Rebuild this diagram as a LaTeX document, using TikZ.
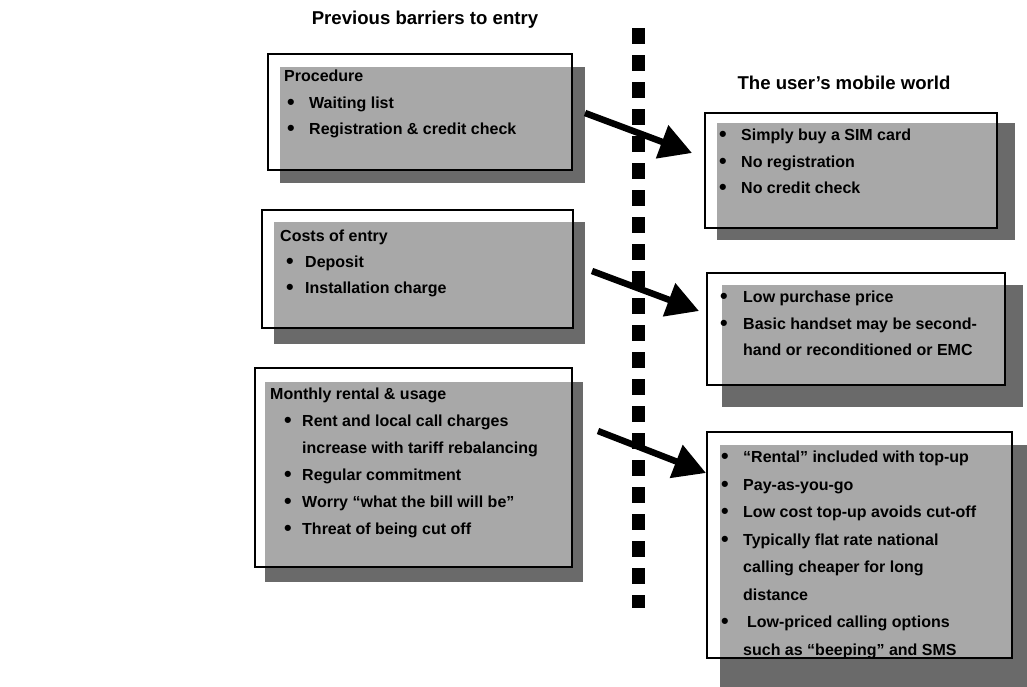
\documentclass[tikz,border=0pt]{standalone}
\usepackage{fontspec}
\setmainfont{Liberation Sans}
\usetikzlibrary{arrows.meta}
\definecolor{shadowc}{HTML}{6A6A6A}
\definecolor{lightc}{HTML}{A8A8A8}
\newcommand{\bigbul}{\raisebox{-0.8pt}{\scalebox{1.35}{\textbullet}}}
\newcommand{\bl}[2]{\hspace*{#1pt}\makebox[#2pt][l]{\bigbul}}
\tikzset{
  shadowbox/.style={fill=shadowc},
  whitebox/.style={fill=white},
  lightbox/.style={fill=lightc},
  framebox/.style={draw=black, line width=2.2pt},
  txt/.style={font=\bfseries\fontsize{16}{27}\selectfont, align=left, inner sep=0pt, anchor=north west},
  head/.style={font=\bfseries\fontsize{18.6}{22}\selectfont, inner sep=0pt},
  arr/.style={-{Triangle[length=32pt,width=34pt]}, line width=6.5pt},
  dots/.style={line width=13pt, dash pattern=on 16pt off 11pt}
}
\newcommand{\shbox}[8]{%
  % #1,#2 frame NW ; #3,#4 frame SE ; #5,#6 light NW ; #7,#8 shadow SE
  \fill[shadowbox] (#5,#6) rectangle (#7,#8);
  \fill[whitebox] (#1,#2) rectangle (#3,#4);
  \fill[lightbox] (#5,#6) rectangle (#3,#4);
  \draw[framebox] (#1,#2) rectangle (#3,#4);
}
\begin{document}
\begin{tikzpicture}[x=1pt,y=-1pt]
\useasboundingbox (0,0) rectangle (1027,686);

% headers
\node[head] (h1) at (425,20) {Previous barriers to entry};
\node[head] (h2) at (844,83) {The user’s mobile world};

% dotted divider
\coordinate (dtop) at (638,28);
\coordinate (dbot) at (638,608);
\draw[dots] (dtop) -- (dbot);

% left boxes
\shbox{268}{54}{572}{170}{280}{67}{585}{183}
\node[txt, font=\bfseries\fontsize{16}{26.5}\selectfont] (t1) at (284,70) {Procedure\\
\bl{3}{22}Waiting list\\
\bl{3}{22}Registration \& credit check};

\shbox{262}{210}{573}{328}{274}{222}{585}{344}
\node[txt, font=\bfseries\fontsize{16}{26}\selectfont] (t2) at (280,230) {Costs of entry\\
\bl{6}{19}Deposit\\
\bl{6}{19}Installation charge};

\shbox{255}{368}{572}{567}{265}{382}{583}{582}
\node[txt] (t3) at (270,388) {Monthly rental \& usage\\
\bl{14}{18}Rent and local call charges\\
\hspace*{32pt}increase with tariff rebalancing\\
\bl{14}{18}Regular commitment\\
\bl{14}{18}Worry “what the bill will be”\\
\bl{14}{18}Threat of being cut off};

% right boxes
\shbox{705}{113}{997}{228}{717}{123}{1015}{240}
\node[txt, font=\bfseries\fontsize{16}{26.5}\selectfont] (t4) at (718.8,129) {\bl{0}{22.2}Simply buy a SIM card\\
\bl{0}{22.2}No registration\\
\bl{0}{22.2}No credit check};

\shbox{707}{273}{1005}{385}{722}{285}{1023}{407}
\node[txt, font=\bfseries\fontsize{16}{26.5}\selectfont] (t5) at (719.8,291) {\bl{0}{23.2}Low purchase price\\
\bl{0}{23.2}Basic handset may be second-\\
\hspace*{23.2pt}hand or reconditioned or EMC};

\shbox{707}{432}{1012}{658}{720}{445}{1027}{690}
\node[txt, font=\bfseries\fontsize{16}{27.5}\selectfont] (t6) at (720.8,451) {\bl{0}{22.2}“Rental” included with top-up\\
\bl{0}{22.2}Pay-as-you-go\\
\bl{0}{22.2}Low cost top-up avoids cut-off\\
\bl{0}{22.2}Typically flat rate national\\
\hspace*{22.2pt}calling cheaper for long\\
\hspace*{22.2pt}distance\\
\bl{0}{26}Low-priced calling options\\
\hspace*{22.2pt}such as “beeping” and SMS};

% arrows
\coordinate (a1s) at (585,113);
\coordinate (a1e) at (692,153);
\coordinate (a2s) at (592,271);
\coordinate (a2e) at (699,311);
\coordinate (a3s) at (598,431);
\coordinate (a3e) at (706,473);
\draw[arr] (a1s) -- (a1e);
\draw[arr] (a2s) -- (a2e);
\draw[arr] (a3s) -- (a3e);
\end{tikzpicture}
\end{document}
